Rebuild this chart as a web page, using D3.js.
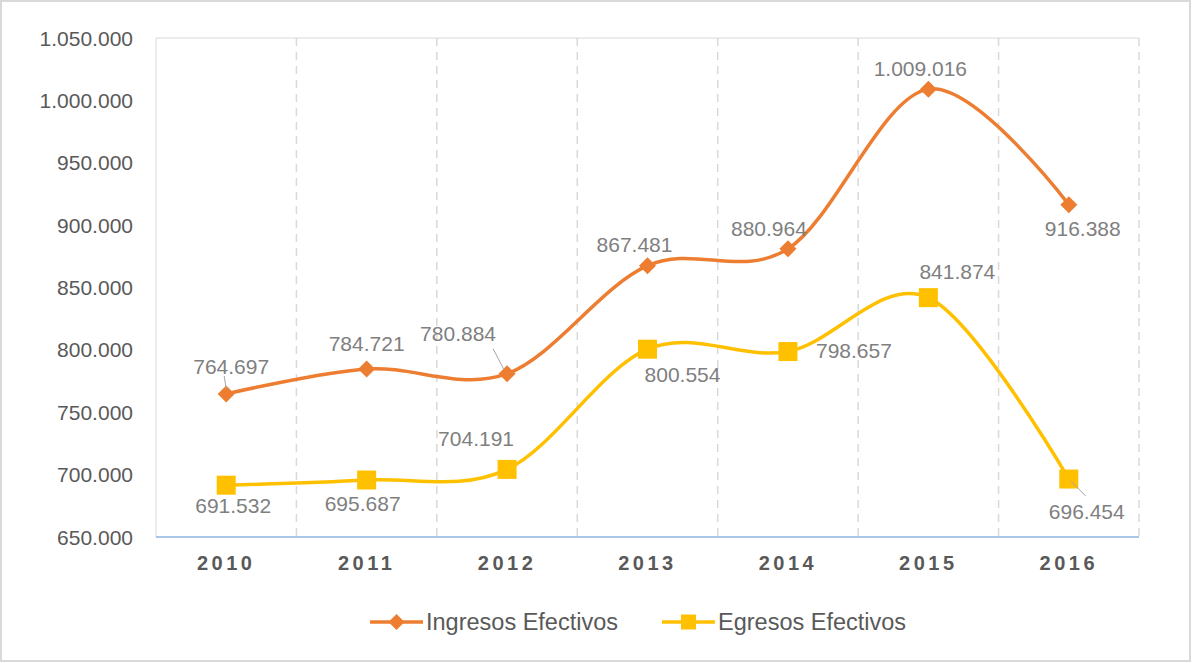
<!DOCTYPE html>
<html>
<head>
<meta charset="utf-8">
<title>Ingresos y Egresos Efectivos</title>
<style>
    body { margin: 0; background: #fff; }
    svg { font-family: "Liberation Sans", Arial, sans-serif; }
    .ytick { fill: #595959; font-size: 21px; }
    .xtick { fill: #595959; font-size: 20px; font-weight: bold; letter-spacing: 3.5px; }
    .dlabel { fill: #7f7f7f; font-size: 21px; }
    .legend-text { fill: #595959; font-size: 23.5px; }
</style>
</head>
<body>
<svg id="chart" width="1192" height="663"></svg>
<script src="https://d3js.org/d3.v7.min.js"></script>
<script>
    const years = ["2010", "2011", "2012", "2013", "2014", "2015", "2016"];
    const ingresos = [764697, 784721, 780884, 867481, 880964, 1009016, 916388];
    const egresos = [691532, 695687, 704191, 800554, 798657, 841874, 696454];
    const yTicks = [650000, 700000, 750000, 800000, 850000, 900000, 950000, 1000000, 1050000];

    // label offsets from the marker (text centre x, baseline y)
    const ingresosLabelOffsets = [[5, -20], [0, -18], [-49, -33], [-13, -14], [-19, -13], [-8, -13], [14, 31]];
    const egresosLabelOffsets = [[7, 28], [-4, 31], [-31, -23], [35, 33], [66, 6], [29, -19], [18, 40]];

    const margin = { left: 156, right: 1139, top: 38, bottom: 537 };
    const svg = d3.select("#chart");

    // outer frame
    svg.append("rect")
        .attr("x", 1).attr("y", 1)
        .attr("width", 1189).attr("height", 660)
        .attr("fill", "none")
        .attr("stroke", "#d9d9d9")
        .attr("stroke-width", 2);

    const x = d3.scaleBand().domain(years).range([margin.left, margin.right]);
    const y = d3.scaleLinear().domain([650000, 1050000]).range([margin.bottom, margin.top]);
    const fmt = d3.formatLocale({ decimal: ",", thousands: ".", grouping: [3], currency: ["", ""] }).format(",d");
    const cx = d => x(d) + x.bandwidth() / 2;

    // plot border
    svg.append("path")
        .attr("d", `M${margin.left},${margin.bottom}V${margin.top}H${margin.right}`)
        .attr("fill", "none")
        .attr("stroke", "#d9d9d9")
        .attr("stroke-width", 1);

    // dashed vertical gridlines at category boundaries
    svg.append("g").selectAll("line")
        .data(years.slice(1).concat(["end"]))
        .enter().append("line")
        .attr("x1", d => d === "end" ? margin.right : x(d))
        .attr("x2", d => d === "end" ? margin.right : x(d))
        .attr("y1", margin.top)
        .attr("y2", margin.bottom)
        .attr("stroke", "#d9d9d9")
        .attr("stroke-width", 1.5)
        .attr("stroke-dasharray", "8,6");

    // x axis line
    svg.append("line")
        .attr("x1", margin.left).attr("x2", margin.right)
        .attr("y1", margin.bottom).attr("y2", margin.bottom)
        .attr("stroke", "#8eb4e3")
        .attr("stroke-width", 1.5);

    // y tick labels
    svg.append("g").selectAll("text")
        .data(yTicks)
        .enter().append("text")
        .attr("class", "ytick")
        .attr("x", 133)
        .attr("y", d => y(d) + 7.5)
        .attr("text-anchor", "end")
        .text(d => fmt(d));

    // x tick labels
    svg.append("g").selectAll("text")
        .data(years)
        .enter().append("text")
        .attr("class", "xtick")
        .attr("x", d => cx(d))
        .attr("y", 570)
        .attr("text-anchor", "middle")
        .text(d => d);

    const line = d3.line()
        .x((d, i) => cx(years[i]))
        .y(d => y(d))
        .curve(d3.curveCardinal.tension(0));

    const series = [
        { name: "Ingresos Efectivos", values: ingresos, color: "#ED7D31", shape: "diamond", offsets: ingresosLabelOffsets },
        { name: "Egresos Efectivos", values: egresos, color: "#FFC000", shape: "square", offsets: egresosLabelOffsets }
    ];

    function drawMarker(g, shape, color, px, py, s) {
        if (shape === "diamond") {
            g.append("path")
                .attr("d", `M${px},${py - s}L${px + s},${py}L${px},${py + s}L${px - s},${py}Z`)
                .attr("fill", color);
        } else {
            g.append("rect")
                .attr("x", px - s).attr("y", py - s)
                .attr("width", 2 * s).attr("height", 2 * s)
                .attr("fill", color);
        }
    }

    series.forEach(s => {
        svg.append("path")
            .datum(s.values)
            .attr("d", line)
            .attr("fill", "none")
            .attr("stroke", s.color)
            .attr("stroke-width", 3.5);

        const g = svg.append("g");
        s.values.forEach((v, i) => {
            drawMarker(g, s.shape, s.color, cx(years[i]), y(v), s.shape === "diamond" ? 8.5 : 9.5);
        });
    });

    // leader lines
    const leaders = [
        [ingresos, 0, [-2, -18], [0, -5]],
        [ingresos, 2, [-14, -25], [-3, -4]],
        [egresos, 6, [2, 2], [17, 17]]
    ];
    leaders.forEach(([vals, i, a, b]) => {
        const px = cx(years[i]), py = y(vals[i]);
        svg.append("line")
            .attr("x1", px + a[0]).attr("y1", py + a[1])
            .attr("x2", px + b[0]).attr("y2", py + b[1])
            .attr("stroke", "#a6a6a6")
            .attr("stroke-width", 1);
    });

    // data labels
    series.forEach(s => {
        svg.append("g").selectAll("text")
            .data(s.values)
            .enter().append("text")
            .attr("class", "dlabel")
            .attr("x", (d, i) => cx(years[i]) + s.offsets[i][0])
            .attr("y", (d, i) => y(d) + s.offsets[i][1])
            .attr("text-anchor", "middle")
            .text(d => fmt(d));
    });

    // legend
    const legendItems = [
        { s: series[0], x0: 370, tx: 426 },
        { s: series[1], x0: 662, tx: 718 }
    ];
    legendItems.forEach(item => {
        const g = svg.append("g");
        g.append("line")
            .attr("x1", item.x0).attr("x2", item.x0 + 53)
            .attr("y1", 622).attr("y2", 622)
            .attr("stroke", item.s.color)
            .attr("stroke-width", 3.5);
        drawMarker(g, item.s.shape, item.s.color, item.x0 + 26.5, 622, item.s.shape === "diamond" ? 8 : 7.5);
        g.append("text")
            .attr("class", "legend-text")
            .attr("x", item.tx)
            .attr("y", 630)
            .text(item.s.name);
    });
</script>
</body>
</html>
